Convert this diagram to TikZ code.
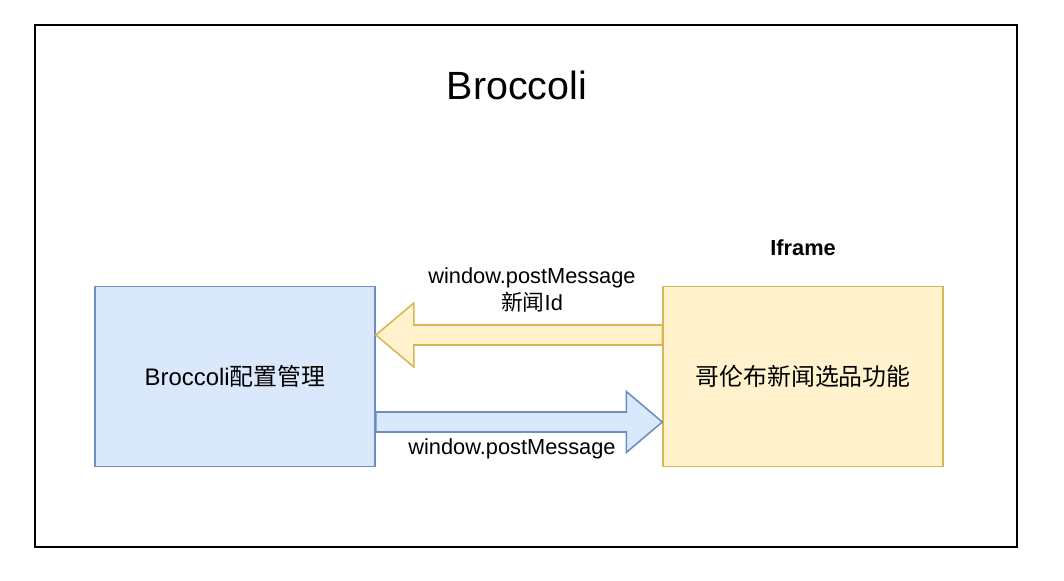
\documentclass[tikz,border=0pt]{standalone}
\usepackage{fontspec}
\setmainfont{Liberation Sans}
\newfontfamily\cjk{Noto Sans CJK SC}
\usetikzlibrary{positioning, calc}
\definecolor{bluefill}{HTML}{DAE8FC}
\definecolor{blueline}{HTML}{6C8EBF}
\definecolor{yellowfill}{HTML}{FFF2CC}
\definecolor{yellowline}{HTML}{D6B656}
\newcommand{\msgfont}{\fontsize{15.5}{19}\selectfont}
\newcommand{\boxfont}{\fontsize{17}{20}\selectfont}

\begin{document}
\begin{tikzpicture}[
        x=0.025cm, y=-0.025cm,
        box/.style={minimum width=7cm, minimum height=4.5cm, line width=1.1pt, font=\boxfont, inner sep=0pt},
        bluebox/.style={box, draw=blueline, fill=bluefill},
        yellowbox/.style={box, draw=yellowline, fill=yellowfill},
        label/.style={font=\msgfont, align=center, inner sep=0pt},
        blockarrow/.style={line width=1.1pt, line join=miter}
    ]
        \useasboundingbox (0,0) rectangle (1064,580);
        \draw [line width=1.4pt] (35,25) rectangle (1017,547);
        \node (title) [font=\fontsize{28}{32}\selectfont] at (517,85) {Broccoli};

        \node (config) [bluebox] at (235,376.5) {Broccoli{\cjk 配置管理}};
        \node (iframe) [yellowbox, right=7.16cm of config] {{\cjk 哥伦布新闻选品功能}};
        \node (iframetitle) [label, font=\msgfont\bfseries, above=0.75cm of iframe] {Iframe};

        % message back from the iframe
        \draw [blockarrow, draw=yellowline, fill=yellowfill] ($(iframe.west)+(0,-51.5)$) -- ($(config.east)+(38,-51.5)$) -- ($(config.east)+(38,-73.5)$) -- ($(config.east)+(0,-41.5)$) -- ($(config.east)+(38,-9.5)$) -- ($(config.east)+(38,-31.5)$) -- ($(iframe.west)+(0,-31.5)$) -- cycle;
        \node (backlabel) [label] at (532,290) {window.postMessage\\{\cjk 新闻}Id};

        % message into the iframe
        \draw [blockarrow, draw=blueline, fill=bluefill] ($(config.east)+(0,35.5)$) -- ($(iframe.west)+(-36,35.5)$) -- ($(iframe.west)+(-36,15)$) -- ($(iframe.west)+(0,45.5)$) -- ($(iframe.west)+(-36,76)$) -- ($(iframe.west)+(-36,55.5)$) -- ($(config.east)+(0,55.5)$) -- cycle;
        \node (sendlabel) [label] at (512,449) {window.postMessage};
    \end{tikzpicture}
\end{document}
